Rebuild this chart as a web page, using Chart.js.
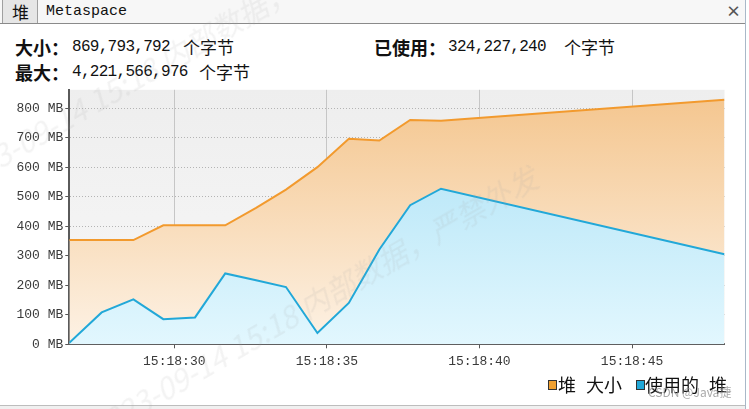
<!DOCTYPE html>
<html><head><meta charset="utf-8">
<script src="https://cdn.jsdelivr.net/npm/chart.js@4.4.0/dist/chart.umd.min.js"></script>
<style>
html,body{margin:0;padding:0;}
body{width:749px;height:409px;overflow:hidden;background:#fff;position:relative;font-family:"Noto Sans CJK SC",sans-serif;color:#111;}
.abs{position:absolute;white-space:nowrap;line-height:1;}
.mono{font-family:"Liberation Mono",monospace;}
.lbl{font-weight:bold;font-size:18px;}
.num{font-size:16px;letter-spacing:-0.7px;}
.unit{font-size:17px;}
#tabbar{position:absolute;left:0;top:0;width:745px;height:23px;background:#f7f7f7;border-bottom:1px solid #8a8a8a;}
#tab1{position:absolute;left:2px;top:0;width:34px;height:23px;background:#e6e6e6;border-left:1px solid #a0a0a0;border-right:1px solid #a0a0a0;}
#wrap{position:absolute;left:0;top:80px;width:749px;height:292px;}
.wm{position:absolute;white-space:nowrap;font-size:30px;font-style:italic;color:rgba(160,160,160,0.13);transform-origin:0 100%;transform:rotate(-30deg);pointer-events:none;line-height:1;}
.box{position:absolute;width:7px;height:8px;border:1px solid #333;}
.leg{font-size:18px;word-spacing:6px;}
</style></head><body>
<div id="tabbar"></div>
<div id="tab1"></div>
<div class="abs" style="left:12px;top:3px;font-size:17px;">堆</div>
<div class="abs mono" style="left:46px;top:4px;font-size:15px;">Metaspace</div>
<div class="abs" style="left:726px;top:3px;font-size:15px;color:#555;font-weight:bold;">×</div>
<div style="position:absolute;left:745px;top:0;width:1px;height:409px;background:#a9b8c8;"></div>
<div style="position:absolute;left:0;top:405px;width:745px;height:1px;background:#bdbdbd;"></div>
<div style="position:absolute;left:0;top:406px;width:745px;height:3px;background:#f0f0f0;"></div>

<div class="abs lbl" style="left:15px;top:38px;">大小：</div>
<div class="abs mono num" style="left:72px;top:39px;">869,793,792</div>
<div class="abs unit" style="left:183px;top:38px;">个字节</div>
<div class="abs lbl" style="left:374px;top:38px;">已使用：</div>
<div class="abs mono num" style="left:448px;top:39px;">324,227,240</div>
<div class="abs unit" style="left:564px;top:38px;">个字节</div>
<div class="abs lbl" style="left:15px;top:63px;">最大：</div>
<div class="abs mono num" style="left:72px;top:64px;">4,221,566,976</div>
<div class="abs unit" style="left:199px;top:63px;">个字节</div>

<div id="wrap"><canvas id="c"></canvas></div>

<div class="box" style="left:548px;top:380px;background:#f0a030;"></div>
<div class="abs leg" style="left:558px;top:375px;">堆 大小</div>
<div class="box" style="left:636px;top:380px;background:#22a8d8;"></div>
<div class="abs leg" style="left:645px;top:375px;">使用的 堆</div>
<div class="abs" style="left:648px;top:386px;font-size:12px;color:rgba(140,140,140,0.75);">CSDN @Java捷</div>

<div class="wm" style="left:-42px;top:166px;">2023-09-14 15:18 内部数据，严禁外发</div>
<div class="wm" style="left:98px;top:413px;">2023-09-14 15:18 内部数据，严禁外发</div>

<script>
// time in seconds after 15:18:00
const times    = [26.56, 27.62, 28.66, 29.64, 30.68, 31.67, 32.68, 33.66, 34.69, 35.72, 36.72, 37.73, 38.74, 48.03];
const heapSize = [353, 353, 353, 403, 403, 403, 462, 524, 600, 696, 690, 760, 757, 828];
const heapUsed = [5, 108, 152, 85, 91, 240, 217, 194, 38, 140, 321, 471, 527, 305];
const timeTicks = [30, 35, 40, 45];
const mbTicks = [0, 100, 200, 300, 400, 500, 600, 700, 800];
const seriesNames = ['堆 大小', '使用的 堆'];

function pts(vals){ return vals.map((v,i)=>({x:times[i], y:v})); }
function grad(ctx, area, c1, c2){
  const g = ctx.createLinearGradient(0, area.top, 0, area.bottom);
  g.addColorStop(0, c1); g.addColorStop(1, c2); return g;
}
const bgPlugin = {
  id:'plotbg',
  beforeDraw(chart){
    const {ctx, chartArea:a} = chart;
    if(!a) return;
    ctx.save();
    ctx.fillStyle = grad(ctx, a, '#eeeeee', '#f8f8f8');
    ctx.fillRect(a.left, a.top, a.right-a.left, a.bottom-a.top);
    ctx.restore();
  }
};
const tickFont = {family:'"Liberation Mono", monospace', size:13};
new Chart(document.getElementById('c'), {
  type:'line',
  data:{
    datasets:[
      {label:seriesNames[1], data:pts(heapUsed), borderColor:'#22a8d8', borderWidth:2, pointRadius:0, tension:0, fill:'origin',
       backgroundColor:(c)=>{const a=c.chart.chartArea; return a?grad(c.chart.ctx,a,'#a8e0f5','#e2f7fe'):'#c8eefa';}},
      {label:seriesNames[0], data:pts(heapSize), borderColor:'#f29a2e', borderWidth:2, pointRadius:0, tension:0, fill:'origin',
       backgroundColor:(c)=>{const a=c.chart.chartArea; return a?grad(c.chart.ctx,a,'#f4c58d','#fdf2e5'):'#f8dcb8';}}
    ]
  },
  options:{
    responsive:true, maintainAspectRatio:false, animation:false,
    layout:{padding:{top:9, right:24.5, left:0, bottom:0}},
    plugins:{legend:{display:false}, tooltip:{enabled:false}},
    scales:{
      x:{type:'linear', min:26.56, max:48.03, z:1,
        afterBuildTicks:(s)=>{s.ticks = timeTicks.map(v=>({value:v}));},
        afterFit:(s)=>{s.height = 27.7;},
        grid:{color:'#c6c6c6', lineWidth:1, tickColor:'#555', tickLength:4},
        border:{color:'#5a5a5a', width:2},
        ticks:{font:tickFont, color:'#3a3a3a', padding:5, maxRotation:0, autoSkip:false,
          callback:(v)=>'15:18:' + String(Math.round(v)).padStart(2,'0')}
      },
      y:{min:0, max:862, z:1,
        afterBuildTicks:(s)=>{s.ticks = mbTicks.map(v=>({value:v}));},
        afterFit:(s)=>{s.width = 69.3;},
        grid:{color:'#b4b4b4', lineWidth:1, tickColor:'#555', tickLength:4, tickBorderDash:[]},
        border:{color:'#5a5a5a', width:2, dash:[1,2]},
        ticks:{font:tickFont, color:'#3a3a3a', padding:2, callback:(v)=>v + ' MB'}
      }
    }
  },
  plugins:[bgPlugin]
});
</script>
</body></html>
